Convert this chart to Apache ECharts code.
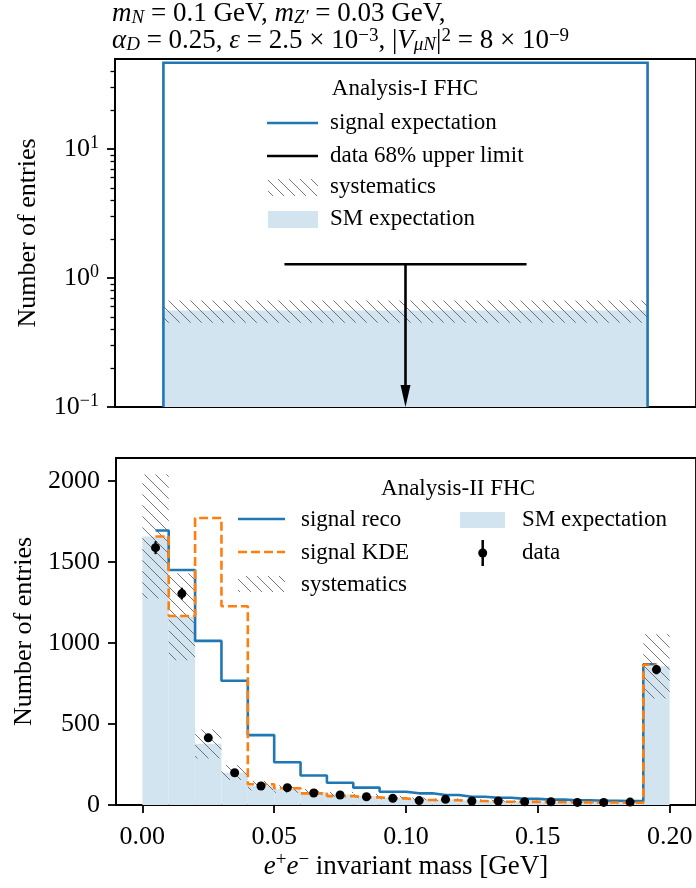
<!DOCTYPE html>
<html><head><meta charset="utf-8">
<script src="https://cdn.jsdelivr.net/npm/echarts@6/dist/echarts.min.js"></script>
<style>html,body{margin:0;padding:0;background:#fff}#c{width:696px;height:888px}</style>
</head><body><div id="c"></div>
<script>
// ---------------- data ----------------
// Top panel: Analysis-I FHC (single bin)
const topBin = [0, 1];
const topSignal = 46.7;
const topSM = 0.56;
const topSystLow = 0.45;
const topSystHigh = 0.67;
const topUpperLimit = 1.28;
const topLimitSpan = [0.25, 0.75];
const topYMin = 0.1, topYMax = 50;
const topYMajor = [0.1, 1, 10];
const topYMinor = [0.2, 0.3, 0.4, 0.5, 0.6, 0.7, 0.8, 0.9, 2, 3, 4, 5, 6, 7, 8, 9, 20, 30, 40];

// Bottom panel: Analysis-II FHC
const binLo = [0.00, 0.01, 0.02, 0.03, 0.04, 0.05, 0.06, 0.07, 0.08, 0.09, 0.10, 0.11, 0.12, 0.13, 0.14, 0.15, 0.16, 0.17, 0.18, 0.19];
const binHi = [0.01, 0.02, 0.03, 0.04, 0.05, 0.06, 0.07, 0.08, 0.09, 0.10, 0.11, 0.12, 0.13, 0.14, 0.15, 0.16, 0.17, 0.18, 0.19, 0.20];
const binCenters = [0.005, 0.015, 0.025, 0.035, 0.045, 0.055, 0.065, 0.075, 0.085, 0.095, 0.105, 0.115, 0.125, 0.135, 0.145, 0.155, 0.165, 0.175, 0.185, 0.195];
const smExp    = [1656, 1163, 378, 199, 118, 98, 80, 66, 55, 46, 38, 33, 29, 26, 23, 21, 19, 18, 17, 856];
const systLow  = [1273, 893, 287, 154, 91, 75, 61, 51, 42, 35, 29, 25, 22, 20, 18, 16, 15, 14, 13, 657];
const systHigh = [2038, 1429, 466, 246, 149, 121, 99, 81, 68, 57, 47, 41, 36, 32, 28, 26, 23, 22, 21, 1053];
const sigReco  = [1693, 1449, 1012, 766, 431, 264, 182, 137, 107, 82, 72, 62, 51, 45, 38, 33, 29, 26, 24, 868];
const sigKDE   = [1656, 1166, 1770, 1226, 128, 103, 72, 55, 47, 41, 31, 29, 25, 20, 19, 17, 16, 15, 14, 865];
const dataVals = [1587, 1304, 414, 199, 117, 107, 74, 62, 51, 41, 27, 35, 25, 25, 20, 20, 16, 16, 18, 835];
const dataErr  = [40, 36, 20, 14, 11, 10, 9, 8, 7, 6, 5, 6, 5, 5, 4, 4, 4, 4, 4, 29];
const xTicks = [0, 0.05, 0.10, 0.15, 0.20];
const yTicks = [0, 500, 1000, 1500, 2000];
const botXMin = -0.01, botXMax = 0.21, botYMin = 0, botYMax = 2140;

// ---------------- styles ----------------
const serif = '"Liberation Serif", "Times New Roman", serif';
const C0 = '#1f77b4', C1 = '#ff7f0e', smColor = '#d2e4f0';
const AXW = 1.8;

function makeHatch() {
  const s = 11;
  const cv = document.createElement('canvas');
  cv.width = s; cv.height = s;
  const ctx = cv.getContext('2d');
  ctx.strokeStyle = 'rgba(95,95,95,0.85)';
  ctx.lineWidth = 1;
  for (const k of [-s, 0, s]) {
    ctx.beginPath();
    ctx.moveTo(k - 1, -1);
    ctx.lineTo(k + s + 1, s + 1);
    ctx.stroke();
  }
  return cv;
}
const hatchFill = { image: makeHatch(), repeat: 'repeat' };

const richSmall = {
  sup: { fontFamily: serif, fontSize: 18, lineHeight: 18, verticalAlign: 'top', color: '#000' }
};

// rows built from arrays
const smRows = binLo.map((lo, i) => [lo, binHi[i], smExp[i]]);
const systRows = binLo.map((lo, i) => [lo, binHi[i], systLow[i], systHigh[i]]);
const recoRows = binCenters.map((x, i) => [x, sigReco[i]]);
const kdeRows = binCenters.map((x, i) => [x, sigKDE[i]]);
const dataRows = binCenters.map((x, i) => [x, dataVals[i]]);
const errRows = binCenters.map((x, i) => [x, dataVals[i] - dataErr[i], dataVals[i] + dataErr[i]]);

const chart = echarts.init(document.getElementById('c'), null, { renderer: 'canvas' });

const TF = 27, TS = 19;
const titleRich = {
  m: { fontFamily: serif, fontSize: TF, lineHeight: TF, verticalAlign: 'top', color: '#000', fontWeight: 'normal' },
  i: { fontFamily: serif, fontSize: TF, lineHeight: TF, verticalAlign: 'top', fontStyle: 'italic', color: '#000', fontWeight: 'normal' },
  sub: { fontFamily: serif, fontSize: TS, lineHeight: TS, padding: [8, 0, 0, 0], verticalAlign: 'top', fontStyle: 'italic', color: '#000', fontWeight: 'normal' },
  sup: { fontFamily: serif, fontSize: TS, lineHeight: TS, verticalAlign: 'top', color: '#000', fontWeight: 'normal' }
};

function legendText(x, y, text, align) {
  return { type: 'text', x: x, y: y, z: 100,
    style: { text: text, fill: '#000', font: '23px ' + serif, align: align || 'left', verticalAlign: 'middle' } };
}
function legendLine(x1, x2, y, color, dash) {
  return { type: 'line', z: 100, shape: { x1: x1, y1: y, x2: x2, y2: y },
    style: { stroke: color, lineWidth: 2.5, lineDash: dash || null } };
}

const graphics = [
  // top legend
  legendText(405, 89, 'Analysis-I FHC', 'center'),
  legendLine(267, 318, 123, C0),
  legendText(330, 123, 'signal expectation'),
  legendLine(267, 318, 156, '#000'),
  legendText(330, 156, 'data 68% upper limit'),
  { type: 'rect', z: 100, shape: { x: 268, y: 179, width: 50, height: 17 }, style: { fill: hatchFill } },
  legendText(330, 187, 'systematics'),
  { type: 'rect', z: 100, shape: { x: 268, y: 211, width: 50, height: 17 }, style: { fill: smColor } },
  legendText(330, 219, 'SM expectation'),
  // bottom legend
  legendText(458, 489, 'Analysis-II FHC', 'center'),
  legendLine(238, 285, 519, C0),
  legendText(301, 520, 'signal reco'),
  legendLine(238, 285, 552, C1, [9, 4]),
  legendText(301, 553, 'signal KDE'),
  { type: 'rect', z: 100, shape: { x: 238, y: 576, width: 47, height: 16 }, style: { fill: hatchFill } },
  legendText(301, 585, 'systematics'),
  { type: 'rect', z: 100, shape: { x: 460, y: 512, width: 45, height: 16 }, style: { fill: smColor } },
  legendText(522, 520, 'SM expectation'),
  { type: 'line', z: 100, shape: { x1: 482.7, y1: 540, x2: 482.7, y2: 566 }, style: { stroke: '#000', lineWidth: 2.5 } },
  { type: 'circle', z: 100, shape: { cx: 482.7, cy: 553, r: 4.5 }, style: { fill: '#000' } },
  legendText(522, 553, 'data')
];

const axisFont = { fontFamily: serif, fontSize: 26, color: '#000' };

const option = {
  animation: false,
  backgroundColor: '#fff',
  title: {
    left: 112, top: 0, padding: 0,
    text: '{i|m}{sub|N}{m| = 0.1 GeV, }{i|m}{sub|Z′}{m| = 0.03 GeV,}\n{i|α}{sub|D}{m| = 0.25, }{i|ε}{m| = 2.5 × 10}{sup|−3}{m|, |}{i|V}{sub|μN}{m||}{sup|2}{m| = 8 × 10}{sup|−9}',
    textStyle: { fontFamily: serif, fontSize: TF, lineHeight: TF, fontWeight: 'normal', color: '#000', rich: titleRich }
  },
  grid: [
    { left: 115, top: 59, width: 582, height: 348, show: true, borderColor: '#000', borderWidth: AXW, backgroundColor: 'transparent' },
    { left: 115, top: 59, width: 582, height: 348, show: false },
    { left: 116, top: 458, width: 580, height: 347, show: true, borderColor: '#000', borderWidth: AXW, backgroundColor: 'transparent' }
  ],
  xAxis: [
    { type: 'value', gridIndex: 0, min: -0.1, max: 1.1,
      axisLine: { show: true, onZero: false, lineStyle: { color: '#000', width: AXW } },
      axisTick: { show: false }, axisLabel: { show: false }, splitLine: { show: false } },
    { type: 'value', gridIndex: 1, min: -0.1, max: 1.1, show: false },
    { type: 'value', gridIndex: 2, min: botXMin, max: botXMax,
      axisLine: { show: true, onZero: false, lineStyle: { color: '#000', width: AXW } },
      axisTick: { show: true, customValues: xTicks, length: 8, lineStyle: { color: '#000', width: AXW } },
      axisLabel: Object.assign({ customValues: xTicks, margin: 19, formatter: v => v.toFixed(2) }, axisFont),
      splitLine: { show: false },
      name: '{i|e}{sup|+}{i|e}{sup|−}{m| invariant mass [GeV]}',
      nameLocation: 'middle', nameGap: 46,
      nameTextStyle: Object.assign({ lineHeight: 32, rich: {
        m: { fontFamily: serif, fontSize: 27, lineHeight: 32, color: '#000' },
        i: { fontFamily: serif, fontSize: 27, lineHeight: 32, fontStyle: 'italic', color: '#000' },
        sup: { fontFamily: serif, fontSize: 19, lineHeight: 19, verticalAlign: 'top', color: '#000' }
      } }, axisFont) }
  ],
  yAxis: [
    { type: 'log', logBase: 10, gridIndex: 0, min: topYMin, max: topYMax,
      axisLine: { show: true, onZero: false, lineStyle: { color: '#000', width: AXW } },
      axisTick: { show: true, customValues: topYMajor, length: 8, lineStyle: { color: '#000', width: AXW } },
      axisLabel: Object.assign({ customValues: topYMajor, margin: 16, lineHeight: 30,
        formatter: v => '10{sup|' + String(Math.round(Math.log10(v))).replace('-', '−') + '}',
        rich: richSmall }, axisFont),
      splitLine: { show: false }, minorTick: { show: false },
      name: 'Number of entries', nameLocation: 'middle', nameGap: 74, nameRotate: 90,
      nameTextStyle: axisFont },
    { type: 'log', logBase: 10, gridIndex: 1, min: topYMin, max: topYMax,
      axisLine: { show: false, onZero: false },
      axisTick: { show: true, customValues: topYMinor, length: 4.5, lineStyle: { color: '#000', width: 1.3 } },
      axisLabel: { show: false }, splitLine: { show: false } },
    { type: 'value', gridIndex: 2, min: botYMin, max: botYMax,
      axisLine: { show: true, onZero: false, lineStyle: { color: '#000', width: AXW } },
      axisTick: { show: true, customValues: yTicks, length: 8, lineStyle: { color: '#000', width: AXW } },
      axisLabel: Object.assign({ customValues: yTicks, margin: 16, formatter: v => String(v) }, axisFont),
      splitLine: { show: false },
      name: 'Number of entries', nameLocation: 'middle', nameGap: 74, nameRotate: 90,
      nameTextStyle: axisFont }
  ],
  graphic: graphics,
  series: [
    // ---- top panel ----
    { type: 'custom', xAxisIndex: 0, yAxisIndex: 0, z: 1,
      data: [[topBin[0], topBin[1], topSM]], encode: { x: [0, 1], y: 2 },
      renderItem: (p, api) => {
        const a = api.coord([api.value(0), api.value(2)]);
        const b = api.coord([api.value(1), topYMin]);
        return { type: 'rect', shape: { x: a[0], y: a[1], width: b[0] - a[0], height: b[1] - a[1] }, style: { fill: smColor } };
      } },
    { type: 'custom', xAxisIndex: 0, yAxisIndex: 0, z: 2,
      data: [[topBin[0], topBin[1], topSystLow, topSystHigh]], encode: { x: [0, 1], y: [2, 3] },
      renderItem: (p, api) => {
        const a = api.coord([api.value(0), api.value(3)]);
        const b = api.coord([api.value(1), api.value(2)]);
        return { type: 'rect', shape: { x: a[0], y: a[1], width: b[0] - a[0], height: b[1] - a[1] }, style: { fill: hatchFill } };
      } },
    { type: 'custom', xAxisIndex: 0, yAxisIndex: 0, z: 3,
      data: [[topBin[0], topBin[1], topSignal]], encode: { x: [0, 1], y: 2 },
      renderItem: (p, api) => {
        const pts = [
          api.coord([api.value(0), topYMin]), api.coord([api.value(0), api.value(2)]),
          api.coord([api.value(1), api.value(2)]), api.coord([api.value(1), topYMin])
        ];
        return { type: 'polyline', shape: { points: pts }, style: { stroke: C0, lineWidth: 2.6, fill: null } };
      } },
    { type: 'custom', xAxisIndex: 0, yAxisIndex: 0, z: 4,
      data: [[topLimitSpan[0], topLimitSpan[1], topUpperLimit]], encode: { x: [0, 1], y: 2 },
      renderItem: (p, api) => {
        const l = api.coord([api.value(0), api.value(2)]);
        const r = api.coord([api.value(1), api.value(2)]);
        const xm = (api.value(0) + api.value(1)) / 2;
        const m = api.coord([xm, api.value(2)]);
        const bt = api.coord([xm, topYMin]);
        return { type: 'group', children: [
          { type: 'line', shape: { x1: l[0], y1: l[1], x2: r[0], y2: r[1] }, style: { stroke: '#000', lineWidth: 2.6 } },
          { type: 'line', shape: { x1: m[0], y1: m[1], x2: bt[0], y2: bt[1] - 16 }, style: { stroke: '#000', lineWidth: 2.6 } },
          { type: 'polygon', shape: { points: [[bt[0] - 5, bt[1] - 22], [bt[0] + 5, bt[1] - 22], [bt[0], bt[1]]] }, style: { fill: '#000' } }
        ] };
      } },
    // ---- bottom panel ----
    { type: 'custom', xAxisIndex: 2, yAxisIndex: 2, z: 1,
      data: smRows, encode: { x: [0, 1], y: 2 },
      renderItem: (p, api) => {
        const a = api.coord([api.value(0), api.value(2)]);
        const b = api.coord([api.value(1), 0]);
        return { type: 'rect', shape: { x: a[0], y: a[1], width: b[0] - a[0], height: b[1] - a[1] }, style: { fill: smColor } };
      } },
    { type: 'custom', xAxisIndex: 2, yAxisIndex: 2, z: 2,
      data: systRows, encode: { x: [0, 1], y: [2, 3] },
      renderItem: (p, api) => {
        const a = api.coord([api.value(0), api.value(3)]);
        const b = api.coord([api.value(1), api.value(2)]);
        return { type: 'rect', shape: { x: a[0], y: a[1], width: b[0] - a[0], height: b[1] - a[1] }, style: { fill: hatchFill } };
      } },
    { type: 'line', xAxisIndex: 2, yAxisIndex: 2, z: 3, data: recoRows, step: 'middle',
      showSymbol: false, symbol: 'none', lineStyle: { color: C0, width: 2.6 } },
    { type: 'line', xAxisIndex: 2, yAxisIndex: 2, z: 4, data: kdeRows, step: 'middle',
      showSymbol: false, symbol: 'none', lineStyle: { color: C1, width: 2.6, type: [9, 4] } },
    { type: 'custom', xAxisIndex: 2, yAxisIndex: 2, z: 5,
      data: errRows, encode: { x: 0, y: [1, 2] },
      renderItem: (p, api) => {
        const a = api.coord([api.value(0), api.value(1)]);
        const b = api.coord([api.value(0), api.value(2)]);
        return { type: 'line', shape: { x1: a[0], y1: a[1], x2: b[0], y2: b[1] }, style: { stroke: '#000', lineWidth: 2.2 } };
      } },
    { type: 'scatter', xAxisIndex: 2, yAxisIndex: 2, z: 6, data: dataRows,
      symbol: 'circle', symbolSize: 9, itemStyle: { color: '#000', opacity: 1 } }
  ]
};
chart.setOption(option);
</script>
</body></html>
